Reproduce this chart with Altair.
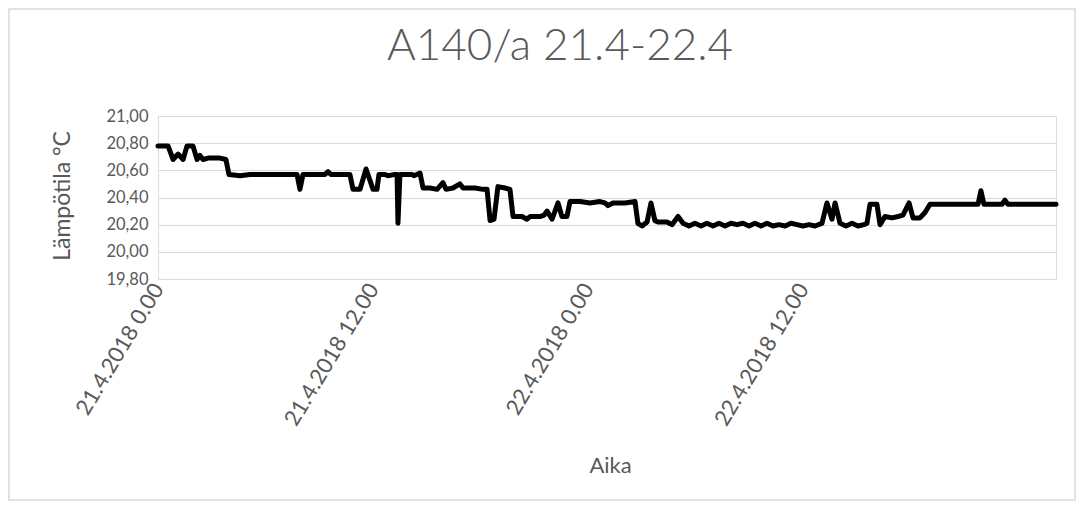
import altair as alt
import pandas as pd

# hours since 21.4.2018 0.00 and temperature readings (°C)
hours = [0.0, 0.56, 0.84, 1.12, 1.40, 1.62, 1.95, 2.18, 2.34, 2.51, 2.79, 3.46, 3.79, 3.96,
         4.58, 5.13, 7.76, 7.92, 8.09, 9.32, 9.49, 9.65, 10.71, 10.88, 11.27, 11.61, 12.0,
         12.22, 12.33, 12.67, 12.83, 13.22, 13.34, 13.39, 13.50, 14.17, 14.28, 14.62, 14.79,
         15.18, 15.57, 15.90, 16.07, 16.46, 16.85, 17.02, 17.69, 18.14, 18.36, 18.53, 18.75,
         18.97, 19.36, 19.64, 19.81, 20.31, 20.59, 20.76, 21.32, 21.54, 21.71, 21.99, 22.32,
         22.54, 22.82, 22.99, 23.55, 24.11, 24.66, 24.94, 25.11, 25.39, 26.06, 26.62, 26.78,
         27.01, 27.29, 27.51, 27.73, 27.90, 28.40, 28.68, 29.02, 29.30,
         29.63, 29.96, 30.30, 30.63, 30.97, 31.30, 31.64, 31.97, 32.31, 32.64, 32.98, 33.31,
         33.65, 33.98, 34.32, 34.65, 34.99, 35.32, 35.66, 35.99, 36.33, 36.66, 37.05, 37.33,
         37.61, 37.78, 38.06, 38.39, 38.73, 39.06, 39.39, 39.56, 39.73, 40.12, 40.29, 40.57,
         40.96, 41.29, 41.57, 41.91, 42.13, 42.52, 42.80, 43.08, 43.64, 45.76, 45.92, 46.09,
         47.10, 47.26, 47.43, 50.11]
temps = [20.78, 20.78, 20.68, 20.72, 20.68, 20.78, 20.78, 20.68, 20.71, 20.68, 20.69, 20.69, 20.68, 20.57,
         20.56, 20.57, 20.57, 20.46, 20.57, 20.57, 20.59, 20.57, 20.57, 20.46, 20.46, 20.61, 20.46,
         20.46, 20.57, 20.57, 20.56, 20.57, 20.57, 20.21, 20.57, 20.57, 20.56, 20.58, 20.47,
         20.47, 20.46, 20.51, 20.46, 20.47, 20.50, 20.47, 20.47, 20.46, 20.46, 20.23, 20.24,
         20.48, 20.47, 20.46, 20.26, 20.26, 20.24, 20.26, 20.26, 20.27, 20.30, 20.24, 20.36,
         20.26, 20.26, 20.37, 20.37, 20.36, 20.37, 20.36, 20.34, 20.36, 20.36, 20.37, 20.21,
         20.19, 20.22, 20.36, 20.23, 20.22, 20.22, 20.20, 20.26, 20.21,
         20.19, 20.21, 20.19, 20.21, 20.19, 20.21, 20.19, 20.21, 20.20, 20.21, 20.19, 20.21,
         20.19, 20.21, 20.19, 20.20, 20.19, 20.21, 20.20, 20.19, 20.20, 20.19, 20.21, 20.36,
         20.24, 20.36, 20.21, 20.19, 20.21, 20.19, 20.20, 20.21, 20.35, 20.35, 20.20, 20.26,
         20.25, 20.26, 20.27, 20.36, 20.25, 20.25, 20.29, 20.35, 20.35, 20.35, 20.45, 20.35,
         20.35, 20.38, 20.35, 20.35]

tick_hours = [0, 12, 24, 36]
tick_labels = ["21.4.2018 0.00", "21.4.2018 12.00", "22.4.2018 0.00", "22.4.2018 12.00"]
y_ticks = [19.8, 20.0, 20.2, 20.4, 20.6, 20.8, 21.0]

title_text = "A140/a 21.4-22.4"
x_title = "Aika"
y_title = "Lämpötila °C"

df = pd.DataFrame({"h": hours, "t": temps})

label_expr = " : ".join(
    f"datum.value == {h} ? '{l}'" for h, l in zip(tick_hours, tick_labels)
) + " : ''"

FONT = "Lato"
GRAY = "#595959"
W, H = 898, 163

line = alt.Chart(df).mark_line(color="black", strokeWidth=5, strokeJoin="round", strokeCap="round").encode(
    x=alt.X("h:Q",
            scale=alt.Scale(domain=[0, 50.11], nice=False, zero=False),
            axis=alt.Axis(values=tick_hours, labelExpr=label_expr, labelAngle=-59,
                          labelAlign="right", labelBaseline="middle", labelPadding=6,
                          grid=False, ticks=False, domain=False, labelFont=FONT,
                          labelFontSize=22, labelColor=GRAY, labelOverlap=False,
                          title=x_title, titleFont=FONT, titleFontSize=22,
                          titleColor=GRAY, titleFontWeight="normal",
                          titleX=452, titleY=186, titleAnchor="middle",
                          titleBaseline="middle")),
    y=alt.Y("t:Q",
            scale=alt.Scale(domain=[19.8, 21.0], nice=False, zero=False),
            axis=alt.Axis(values=y_ticks,
                          labelExpr="replace(format(datum.value, '.2f'), '.', ',')",
                          grid=True, gridColor="#d9d9d9", gridWidth=1.2,
                          ticks=False, domain=False, labelFont=FONT, labelFontSize=16.5,
                          labelColor=GRAY, labelPadding=10,
                          title=y_title, titleFont=FONT, titleFontSize=23,
                          titleColor=GRAY, titleFontWeight="normal",
                          titleX=-96, titleY=H / 2 - 2, titleAngle=-90, titleAnchor="middle",
                          titleBaseline="middle")),
)

border = alt.Chart(pd.DataFrame({"a": [0]})).mark_rect(
    fill="#ffffff", fillOpacity=0, stroke="#d9d9d9", strokeWidth=1.5, clip=False
).encode(
    x=alt.value(-149), x2=alt.value(917), y=alt.value(-107), y2=alt.value(384)
)

title = alt.Chart(pd.DataFrame({"txt": [title_text]})).mark_text(
    font=FONT, fontSize=44, fontWeight=300, color=GRAY, align="center", baseline="middle", clip=False
).encode(
    text="txt:N", x=alt.value(402), y=alt.value(-69)
)

chart = alt.layer(border, line, title).properties(
    width=W, height=H,
    autosize=alt.AutoSizeParams(type="none"),
    padding={"left": 150, "top": 108, "right": 20, "bottom": 225},
).configure_view(stroke=None).configure(background="white")

chart.save("out.html", embed_options={"renderer": "svg", "actions": False})
